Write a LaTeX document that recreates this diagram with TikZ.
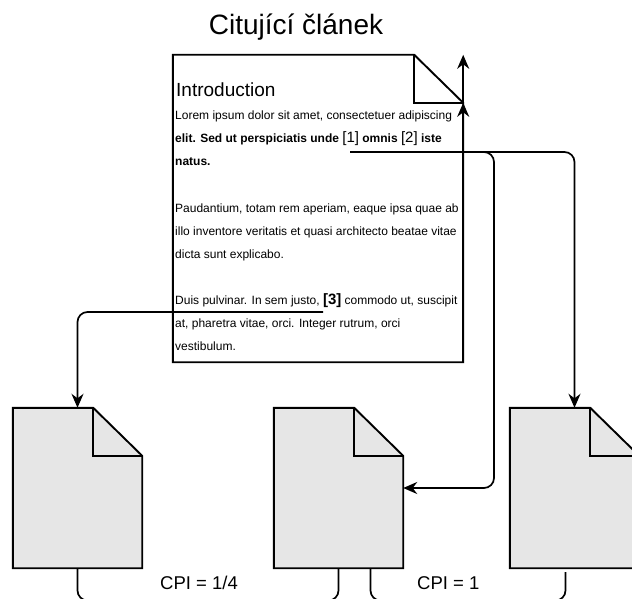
\documentclass[tikz,border=0pt]{standalone}
\usepackage{fontspec}
\setmainfont{Liberation Sans}
\usetikzlibrary{arrows.meta}
\definecolor{docfill}{HTML}{E6E6E6}

% page with a folded top-right corner, drawn over an invisible named node
% #1 node name, #2 fill colour, #3 fold width, #4 fold height
\newcommand\foldedpage[4]{%
  \path[docline, fill=#2]
    (#1.south west) -- (#1.north west) -- ([xshift=-#3]#1.north east)
    -- ([yshift=-#4]#1.north east) -- (#1.south east) -- cycle;
  \draw[docline]
    ([xshift=-#3]#1.north east) -- ([xshift=-#3,yshift=-#4]#1.north east)
    -- ([yshift=-#4]#1.north east);
}

\begin{document}
\begin{tikzpicture}[x=1pt,y=-1pt,
  pagebox/.style={draw=none, inner sep=0pt, minimum width=#1},
  docline/.style={draw=black, line width=1.9pt, line join=miter},
  link/.style={draw=black, line width=1.7pt, rounded corners=10pt},
  tip/.style={-{Stealth[length=14pt,width=12pt,inset=4.5pt]}},
  body/.style={anchor=base west, inner sep=0pt, font=\fontsize{12}{14}\selectfont},
  cpi/.style={anchor=base west, inner sep=0pt, font=\fontsize{18.5}{22}\selectfont}]
\useasboundingbox (0,0) rectangle (632,599);
\clip (0,0) rectangle (632,599);

% title
\node[anchor=base, inner sep=0pt, font=\fontsize{28}{34}\selectfont] (title) at (296,35) {Citující článek};

% citing article
\node[pagebox=290pt, minimum height=307pt] (main) at (318,208.5) {};
\foldedpage{main}{white}{49pt}{48pt}
\coordinate (fold) at ([yshift=-48pt]main.north east);

\node[anchor=base west, inner sep=0pt, font=\fontsize{19}{23}\selectfont] (intro) at (176,97) {Introduction};
\node[body] (l1) at (175,120) {Lorem ipsum dolor sit amet, consectetuer adipiscing};
\node[body, font=\fontsize{12}{14}\selectfont\bfseries] (l2) at (175,143) {elit. Sed ut perspiciatis unde {\fontsize{15}{15}\selectfont\mdseries[1]} omnis {\fontsize{15}{15}\selectfont\mdseries[2]} iste};
\node[body, font=\fontsize{12}{14}\selectfont\bfseries] (l3) at (175,166) {natus.};
\node[body] (l4) at (175,212) {Paudantium, totam rem aperiam, eaque ipsa quae ab};
\node[body] (l5) at (175,235) {illo inventore veritatis et quasi architecto beatae vitae};
\node[body] (l6) at (175,258) {dicta sunt explicabo.};
\node[body] (l7) at (175,304) {Duis pulvinar. In sem justo, {\fontsize{15}{15}\selectfont\bfseries[3]} commodo ut, suscipit};
\node[body] (l8) at (175,327) {at, pharetra vitae, orci. Integer rutrum, orci};
\node[body] (l9) at (175,350) {vestibulum.};

% cited articles
\node[pagebox=129pt, minimum height=160pt] (d1) at (77.5,488) {};
\node[pagebox=129pt, minimum height=160pt] (d2) at (338.5,488) {};
\node[pagebox=129pt, minimum height=160pt] (d3) at (574.5,488) {};
\foldedpage{d1}{docfill}{49pt}{48pt}
\foldedpage{d2}{docfill}{49pt}{48pt}
\foldedpage{d3}{docfill}{49pt}{48pt}

% citation links
\coordinate (c12) at (350,152);
\coordinate (c3) at (323,312);
\coordinate (bend2) at (494,152);
\draw[link, tip] (c12) -- (bend2) |- (d2.east);
\draw[link, tip] (c12) -| (d3.north);
\draw[link, tip] (c3) -| (d1.north);
\draw[link, tip] (main.south east) -- (fold);
\draw[link, tip] (fold) -- (main.north east);

% co-citation brackets
\coordinate (b1) at (200,600.5);
\coordinate (b2) at (470,600.5);
\coordinate (d2r) at ([xshift=32pt]d2.south);
\coordinate (d3l) at ([xshift=-9pt,yshift=-4pt]d3.south);
\draw[link] (d1.south) |- (b1) -| (d2.south);
\draw[link] (d2r) |- (b2) -| (d3l);

\node[cpi] (cpi1) at (160,589) {CPI = 1/4};
\node[cpi] (cpi2) at (417,589) {CPI = 1};
\end{tikzpicture}
\end{document}
